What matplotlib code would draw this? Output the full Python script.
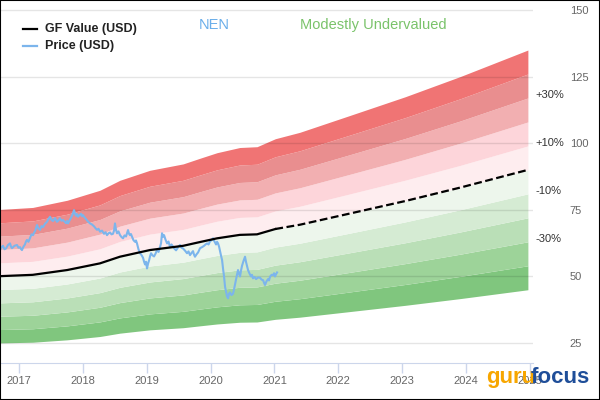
#!/usr/bin/env python3

import numpy as np
import matplotlib.pyplot as plt
from matplotlib.lines import Line2D
from matplotlib.patches import Rectangle

plt.rcParams['font.family'] = ['Liberation Sans', 'DejaVu Sans']

# GF Value: history (solid) and projection (dashed), decimal years
gf_hist_years = [2016.700, 2017.213, 2017.753, 2018.266, 2018.579, 2019.049, 2019.571,
                 2019.832, 2020.101, 2020.458, 2020.728, 2021.015]
gf_hist_values = [50.1, 50.6, 52.4, 54.9, 57.4, 59.9, 61.5, 62.9, 64.3, 65.6, 65.8, 67.8]
gf_fut_years = [2021.015, 2021.398, 2022.180, 2023.050, 2023.920, 2024.973]
gf_fut_values = [67.8, 69.4, 73.6, 78.3, 83.4, 90.0]

# Price (USD)
price_years = [2016.700, 2016.723, 2016.747, 2016.770, 2016.794, 2016.825, 2016.857,
               2016.872, 2016.888, 2016.927, 2016.966, 2016.990, 2017.013, 2017.029,
               2017.044, 2017.068, 2017.091, 2017.107, 2017.123, 2017.146, 2017.171,
               2017.194, 2017.218, 2017.233, 2017.249, 2017.265, 2017.280, 2017.304,
               2017.327, 2017.351, 2017.374, 2017.406, 2017.437, 2017.460, 2017.484,
               2017.507, 2017.531, 2017.562, 2017.593, 2017.617, 2017.640, 2017.664,
               2017.687, 2017.711, 2017.734, 2017.750, 2017.766, 2017.789, 2017.813,
               2017.836, 2017.860, 2017.875, 2017.891, 2017.907, 2017.922, 2017.946,
               2017.969, 2017.985, 2018.001, 2018.024, 2018.048, 2018.080, 2018.111,
               2018.142, 2018.174, 2018.197, 2018.221, 2018.244, 2018.268, 2018.299,
               2018.330, 2018.354, 2018.377, 2018.401, 2018.424, 2018.448, 2018.471,
               2018.487, 2018.502, 2018.518, 2018.534, 2018.557, 2018.581, 2018.604,
               2018.628, 2018.651, 2018.675, 2018.690, 2018.706, 2018.722, 2018.737,
               2018.753, 2018.769, 2018.792, 2018.816, 2018.831, 2018.847, 2018.870,
               2018.895, 2018.918, 2018.942, 2018.957, 2018.973, 2018.989, 2019.004,
               2019.020, 2019.036, 2019.051, 2019.067, 2019.091, 2019.114, 2019.138,
               2019.161, 2019.185, 2019.208, 2019.224, 2019.239, 2019.255, 2019.271,
               2019.294, 2019.318, 2019.341, 2019.365, 2019.388, 2019.412, 2019.435,
               2019.459, 2019.490, 2019.521, 2019.545, 2019.568, 2019.599, 2019.631,
               2019.654, 2019.678, 2019.701, 2019.725, 2019.740, 2019.756, 2019.780,
               2019.804, 2019.820, 2019.835, 2019.867, 2019.898, 2019.921, 2019.945,
               2019.968, 2019.992, 2020.015, 2020.039, 2020.062, 2020.086, 2020.101,
               2020.117, 2020.133, 2020.148, 2020.164, 2020.180, 2020.195, 2020.211,
               2020.227, 2020.242, 2020.258, 2020.274, 2020.289, 2020.305, 2020.328,
               2020.352, 2020.368, 2020.383, 2020.407, 2020.430, 2020.446, 2020.462,
               2020.477, 2020.493, 2020.516, 2020.540, 2020.555, 2020.571, 2020.587,
               2020.610, 2020.634, 2020.649, 2020.665, 2020.689, 2020.713, 2020.744,
               2020.776, 2020.799, 2020.823, 2020.838, 2020.854, 2020.877, 2020.901,
               2020.916, 2020.932, 2020.956, 2020.979, 2020.995, 2021.010, 2021.026,
               2021.042]
price_values = [59.9, 61.0, 61.5, 60.2, 60.5, 61.8, 62.4, 61.2, 60.6, 61.5, 61.8, 60.8,
                61.0, 60.3, 59.9, 61.2, 62.0, 63.1, 63.7, 63.0, 64.5, 65.8, 65.5, 66.4,
                67.0, 68.2, 69.3, 68.0, 67.5, 68.9, 68.5, 69.8, 70.5, 71.6, 72.4, 71.2,
                70.8, 71.9, 70.5, 71.0, 71.8, 70.9, 71.2, 70.6, 70.0, 70.8, 69.9, 71.0,
                72.0, 73.2, 74.9, 73.6, 72.8, 73.4, 72.4, 73.0, 73.5, 72.6, 73.0, 72.2,
                71.5, 70.6, 69.9, 69.5, 68.8, 68.1, 67.5, 67.9, 66.8, 67.2, 66.0, 66.6,
                65.5, 66.2, 66.5, 65.8, 66.0, 67.2, 69.9, 67.5, 66.2, 66.9, 65.5, 64.8,
                64.3, 65.4, 65.0, 66.1, 67.4, 66.0, 65.5, 65.9, 64.9, 63.6, 63.0, 63.5,
                62.4, 60.2, 58.7, 58.0, 57.0, 55.6, 54.5, 55.5, 53.0, 54.8, 56.0, 57.5,
                58.7, 57.9, 57.5, 58.6, 59.9, 59.2, 61.0, 62.5, 66.2, 64.9, 65.5, 63.8,
                62.4, 63.1, 61.0, 62.0, 61.2, 60.4, 59.8, 60.9, 61.8, 60.8,
                60.5, 59.7, 58.7, 59.4, 58.0, 58.8, 59.5, 58.2, 57.4, 58.3, 59.0, 59.8,
                60.6, 61.0, 61.5, 62.0, 62.4, 62.0, 63.2, 63.6, 64.3, 63.1, 62.0, 63.0,
                62.4, 61.2, 59.5, 57.8, 56.2, 53.0, 50.0, 46.1, 44.3, 42.5, 41.8, 43.5,
                44.0, 43.0, 43.5, 45.2, 47.0, 49.8, 52.4, 51.0, 50.0, 52.2, 54.0, 55.8,
                57.4, 55.5, 54.0, 52.4, 51.1, 50.0, 50.6, 49.3, 49.8, 49.0, 49.6, 49.5,
                48.8, 48.6, 47.6, 46.8, 48.2, 49.0, 48.5, 49.9, 50.6, 50.5, 51.2, 50.0,
                50.8, 51.5]

band_steps = [-0.5, -0.4, -0.3, -0.2, -0.1, 0.0, 0.1, 0.2, 0.3, 0.4, 0.5]
band_colors = ['#80c67e', '#9dd399', '#badfb7', '#d5ebd3', '#edf6ec',
               '#feedef', '#fdd5da', '#f2afb1', '#e98e8f', '#f07474']
pct_steps = [0.3, 0.1, -0.1, -0.3]
pct_labels = ['+30%', '+10%', '-10%', '-30%']

year_ticks = list(range(2017, 2026))
value_ticks = [25, 50, 75, 100, 125, 150]

fig = plt.figure(figsize=(6, 4), dpi=100)
ax = fig.add_axes([0, 1 - 363 / 400, 533 / 600, 354 / 400])

yrs = np.array(gf_hist_years + gf_fut_years[1:])
gf = np.array(gf_hist_values + gf_fut_values[1:])
for i in range(len(band_colors)):
    ax.fill_between(yrs, gf * (1 + band_steps[i]), gf * (1 + band_steps[i + 1]),
                    color=band_colors[i], lw=0, zorder=1)

ax.plot(price_years, price_values, color='#7cb5ec', lw=1.5, zorder=3)
ax.plot(gf_hist_years, gf_hist_values, color='black', lw=1.6, zorder=4)
ax.plot(gf_fut_years, gf_fut_values, color='black', lw=1.6, dashes=(3.5, 1.6), zorder=4)

ax.set_xlim(2016.70, 2025.053)
ax.set_ylim(17.5, 150.4)
for s in ['top', 'left', 'right']:
    ax.spines[s].set_visible(False)
ax.spines['bottom'].set_color('#ccd6eb')

ax.set_xticks(year_ticks)
ax.set_xticklabels([str(y) for y in year_ticks])
ax.tick_params(axis='x', length=7.2, width=1, color='#ccd6eb', pad=2,
               labelsize=8, labelcolor='#666666')
ax.yaxis.tick_right()
ax.set_yticks(value_ticks)
ax.tick_params(axis='y', length=0, pad=26.5, labelsize=8, labelcolor='#666666')
ax.set_axisbelow(False)
ax.grid(axis='y', color='black', alpha=0.1, lw=1)

for st, lab in zip(pct_steps, pct_labels):
    ax.annotate(lab, xy=(1.0, gf[-1] * (1 + st)), xycoords=('axes fraction', 'data'),
                xytext=(1.5, 2.2), textcoords='offset points', ha='left', va='center',
                fontsize=8, color='#333333', annotation_clip=False)

# legend
fig.add_artist(Line2D([23 / 600, 37 / 600], [1 - 29 / 400] * 2, color='black', lw=1.6))
fig.add_artist(Line2D([23 / 600, 37 / 600], [1 - 46 / 400] * 2, color='#7cb5ec', lw=1.6))
fig.text(45 / 600, 1 - 29 / 400, 'GF Value (USD)', fontsize=9, fontweight='bold',
         color='#222222', va='center', ha='left')
fig.text(45 / 600, 1 - 46 / 400, 'Price (USD)', fontsize=9, fontweight='bold',
         color='#222222', va='center', ha='left')

fig.text(214 / 600, 1 - 25 / 400, 'NEN', fontsize=10.5, color='#6aaeea',
         ha='center', va='center')
fig.text(300 / 600, 1 - 25 / 400, 'Modestly Undervalued', fontsize=10.5,
         color='#7ac36a', ha='left', va='center')

# logo
fig.text(486 / 600, 1 - 383 / 400, 'guru', fontsize=16, fontweight='bold',
         color='#f7a600', ha='left', va='baseline', zorder=10)
fig.text(531 / 600, 1 - 383 / 400, 'focus', fontsize=16, fontweight='bold',
         color='#1f4e99', ha='left', va='baseline', zorder=10)

fig.add_artist(Rectangle((0, 0), 1, 1, transform=fig.transFigure, fill=False,
                         ec='black', lw=1.5))

fig.savefig('out.png', dpi=100)
